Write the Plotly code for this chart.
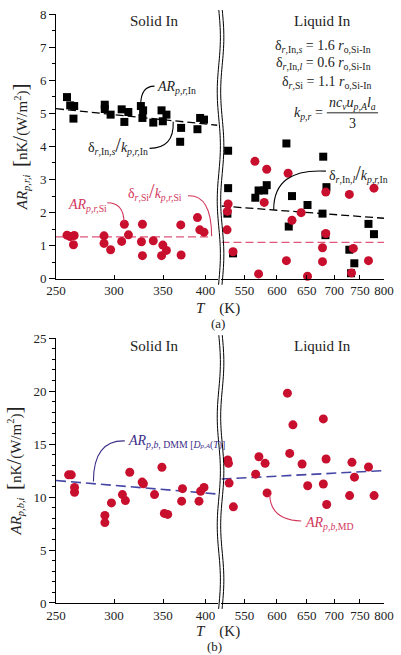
import numpy as np
import plotly.graph_objects as go

# ---------------- data ----------------
# (a) solid In side
T_a_solid_In = [258.8, 261.4, 264.7, 264.1, 291.4, 291.4, 296.8, 307.3, 313.8, 309.9, 326.4,
                328.7, 328.0, 339.4, 348.3, 353.7, 349.7, 370.4, 369.3, 389.9, 393.2, 398.0]
AR_a_solid_In = [5.49, 5.24, 5.22, 4.84, 5.26, 5.13, 4.96, 5.12, 5.04, 4.74, 5.22,
                 5.09, 4.86, 4.72, 5.09, 4.96, 4.76, 4.56, 4.14, 4.52, 4.86, 4.81]
T_a_solid_Si = [258.8, 261.4, 264.7, 264.1, 290.7, 290.7, 296.8, 307.3, 309.9, 313.9, 327.0,
                328.0, 328.0, 339.4, 348.3, 349.7, 353.7, 370.0, 370.4, 389.9, 392.8, 398.0]
AR_a_solid_Si = [1.32, 1.28, 1.31, 1.03, 1.30, 1.07, 0.88, 1.13, 1.65, 1.33, 1.12,
                 1.65, 0.70, 1.15, 0.70, 1.02, 0.86, 1.63, 0.72, 1.85, 1.48, 1.41]
# (a) liquid In side
T_a_liquid_In = [526.3, 526.3, 525.3, 566.2, 571.2, 579.9, 583.8, 624.8, 619.4, 651.4, 679.5,
                 678.2, 685.4, 683.6, 728.9, 738.7, 732.2, 767.3, 778.7, 533.3, 615.5]
AR_a_liquid_In = [3.87, 2.74, 1.97, 2.45, 2.67, 2.67, 2.83, 2.50, 1.58, 2.23, 3.69,
                  1.97, 2.77, 1.32, 0.88, 0.47, 0.17, 1.66, 1.35, 0.77, 4.09]
T_a_liquid_Si = [565.6, 583.8, 618.3, 526.3, 525.3, 524.8, 579.9, 640.4, 624.8, 684.2, 684.2,
                 678.2, 728.9, 778.7, 533.3, 615.5, 678.2, 767.3, 736.7, 571.2, 651.4, 733.2]
AR_a_liquid_Si = [3.55, 3.31, 3.19, 2.26, 2.04, 1.48, 2.31, 2.00, 1.77, 2.62, 1.37,
                  0.94, 2.55, 2.74, 0.82, 0.55, 0.52, 0.55, 0.92, 0.15, 0.08, 0.18]
# (a) fit lines
T_fit_solid = [250, 415]
T_fit_solid_Si = [250, 406]
T_fit_liquid = [517, 800]
AR_fit_solid_In = [5.14, 4.64]
AR_fit_solid_Si = [1.27, 1.27]
AR_fit_liquid_In = [2.20, 1.83]
AR_fit_liquid_Si = [1.10, 1.10]

# (b)
T_b_solid = [260.1, 262.3, 265.0, 265.0, 291.5, 291.5, 297.6, 308.0, 310.9, 315.2, 327.7,
             329.0, 340.7, 348.7, 351.4, 355.1, 372.0, 371.0, 391.8, 393.8, 398.0]
AR_b_solid = [12.10, 12.10, 10.91, 10.45, 8.27, 7.59, 9.45, 10.23, 9.67, 12.34, 11.41,
              11.26, 10.23, 12.81, 8.46, 8.36, 10.79, 9.61, 9.61, 10.55, 10.91]
T_b_liquid = [617.2, 626.4, 679.7, 525.8, 526.8, 571.7, 581.3, 621.0, 642.0, 684.7, 734.0,
              767.4, 566.7, 739.0, 527.7, 651.7, 679.7, 584.4, 729.4, 779.0, 685.8, 533.8]
AR_b_liquid = [19.81, 16.82, 17.38, 13.50, 13.18, 13.81, 13.18, 14.12, 13.12, 13.59, 13.28,
               12.84, 12.16, 11.88, 11.32, 11.07, 11.23, 10.39, 10.14, 10.14, 9.30, 9.08]
AR_fit_b_solid = [11.56, 10.29]
AR_fit_b_liquid = [11.70, 12.50]

tick_left = [250, 300, 350, 400]
tick_right = [550, 600, 650, 700, 750, 800]

# ---------------- styling ----------------
FONT = "Liberation Serif, Times New Roman, serif"
BLACK = "#000000"
RED = "#c8102e"
RED_TXT = "#d2375c"
RED_LINE = "#e0557a"
BLUE = "#4646a6"
NAVY = "#3a2d86"

W, H = 401, 655
ML, MR, MT, MB = 56, 12, 7, 52
PW = W - ML - MR
PH = H - MT - MB


def P(px, py):
    return ((px - ML) / PW, (H - MB - py) / PH)


fig = go.Figure()


def sc(x, y, xa, ya, sym, color, size):
    fig.add_trace(go.Scatter(x=x, y=y, xaxis=xa, yaxis=ya, mode="markers", cliponaxis=False,
                             marker=dict(symbol=sym, color=color, size=size, line=dict(width=0))))


def ln(x, y, xa, ya, color, width=1.3, dash="8px,4px"):
    fig.add_trace(go.Scatter(x=x, y=y, xaxis=xa, yaxis=ya, mode="lines",
                             line=dict(color=color, width=width, dash=dash)))


# panel (a)
ln(T_fit_solid, AR_fit_solid_In, "x", "y", BLACK)
ln(T_fit_solid_Si, AR_fit_solid_Si, "x", "y", RED_LINE)
ln(T_fit_liquid, AR_fit_liquid_In, "x2", "y", BLACK)
ln(T_fit_liquid, AR_fit_liquid_Si, "x2", "y", RED_LINE)
sc(T_a_solid_In, AR_a_solid_In, "x", "y", "square", BLACK, 8)
sc(T_a_solid_Si, AR_a_solid_Si, "x", "y", "circle", RED, 9)
sc(T_a_liquid_In, AR_a_liquid_In, "x2", "y", "square", BLACK, 8)
sc(T_a_liquid_Si, AR_a_liquid_Si, "x2", "y", "circle", RED, 9)
# panel (b)
ln(T_fit_solid, AR_fit_b_solid, "x3", "y2", BLUE, 1.6, "10px,5px")
ln(T_fit_liquid, AR_fit_b_liquid, "x4", "y2", BLUE, 1.6, "10px,5px")
sc(T_b_solid, AR_b_solid, "x3", "y2", "circle", RED, 9)
sc(T_b_liquid, AR_b_liquid, "x4", "y2", "circle", RED, 9)

xl_dom = [0, (220 - ML) / PW]
xr_dom = [(224 - ML) / PW, 1]
ya_dom = [P(0, 275)[1], 1]
yb_dom = [0, P(0, 335)[1]]

xcommon = dict(type="log", showline=True, linecolor="black", linewidth=1, ticks="inside",
               ticklen=4, tickcolor="black", showgrid=False, zeroline=False,
               tickfont=dict(family=FONT, size=13, color="#222"))
xleft = dict(xcommon, domain=xl_dom, range=[np.log10(250), np.log10(415.3)], tickvals=tick_left)
xright = dict(xcommon, domain=xr_dom, range=[np.log10(517), np.log10(800)], tickvals=tick_right)

big = "<span style='font-size:21px'>"
ycommon = dict(showline=True, linecolor="black", linewidth=1, ticks="outside", ticklen=6,
               tickcolor="black", showgrid=False, zeroline=False,
               tickfont=dict(family=FONT, size=13, color="#222"))
ya = dict(ycommon, domain=ya_dom, anchor="x", range=[0, 8], dtick=1,
          minor=dict(dtick=0.5, ticks="outside", ticklen=3, tickcolor="black"),
          title=dict(text="<i>AR</i><sub><i>p,r,i</i></sub>  " + big + "[</span>nK" + big +
                     "/</span>(W/m<sup>2</sup>)" + big + "]</span>",
                     font=dict(family=FONT, size=15, color="#222"), standoff=8))
yb = dict(ycommon, domain=yb_dom, anchor="x3", range=[0, 25], dtick=5,
          minor=dict(dtick=1, ticks="outside", ticklen=3, tickcolor="black"),
          title=dict(text="<i>AR</i><sub><i>p,b,i</i></sub>  " + big + "[</span>nK" + big +
                     "/</span>(W/m<sup>2</sup>)" + big + "]</span>",
                     font=dict(family=FONT, size=15, color="#222"), standoff=8))

fig.update_layout(
    width=W, height=H, margin=dict(l=ML, r=MR, t=MT, b=MB),
    paper_bgcolor="white", plot_bgcolor="white", showlegend=False,
    font=dict(family=FONT, color="#222"),
    xaxis=dict(xleft, anchor="y"), xaxis2=dict(xright, anchor="y"),
    xaxis3=dict(xleft, anchor="y2"), xaxis4=dict(xright, anchor="y2"),
    yaxis=ya, yaxis2=yb,
)

ann = []


def txt(px, py, text, size=14, color="#222", xanchor="center"):
    x, y = P(px, py)
    ann.append(dict(x=x, y=y, xref="paper", yref="paper", text=text, showarrow=False,
                    xanchor=xanchor, yanchor="middle",
                    font=dict(family=FONT, size=size, color=color)))


shapes = []


def curve(p0, c, p1, color, width=1.1):
    a, b, d = P(*p0), P(*c), P(*p1)
    shapes.append(dict(type="path", xref="paper", yref="paper",
                       path=f"M {a[0]},{a[1]} Q {b[0]},{b[1]} {d[0]},{d[1]}",
                       line=dict(color=color, width=width)))


def wave(xc, top, bot, amp=1.6, period=110):
    pys = np.linspace(top, bot, 80)
    pts = [P(xc + amp * np.sin(2 * np.pi * (py - top) / period), py) for py in pys]
    path = "M " + " L ".join(f"{x:.5f},{y:.5f}" for x, y in pts)
    shapes.append(dict(type="path", xref="paper", yref="paper", path=path,
                       line=dict(color="black", width=1)))


for xc in (221.3, 224.8):
    wave(xc, 3, 281)
    wave(xc, 332, 609)

slash = "<span style='font-size:20px'>/</span>"

# panel (a) texts
txt(155, 14, "Solid In", 15)
txt(327, 14, "Liquid In", 15)
txt(378, 40, "δ<sub><i>r</i>,In,<i>s</i></sub> = 1.6 <i>r</i><sub>o,Si-In</sub>", 14, xanchor="right")
txt(378, 57, "δ<sub><i>r</i>,In,<i>l</i></sub> = 0.6 <i>r</i><sub>o,Si-In</sub>", 14, xanchor="right")
txt(378, 76, "δ<sub><i>r</i>,Si</sub> = 1.1 <i>r</i><sub>o,Si-In</sub>", 14, xanchor="right")
txt(329, 108, "<i>k</i><sub><i>p,r</i></sub> =", 14, xanchor="right")
txt(357, 98, "<i>nc</i><sub><i>v</i></sub><i>u</i><sub><i>p,A</i></sub><i>l</i><sub><i>a</i></sub>", 14)
txt(357, 118, "3", 14)
a0, a1 = P(331, 107), P(383, 107)
shapes.append(dict(type="line", xref="paper", yref="paper", x0=a0[0], y0=a0[1], x1=a1[0], y1=a1[1],
                   line=dict(color="#222", width=1)))

txt(157, 81, "<i>AR</i><sub><i>p,r,</i>In</sub>", 14, xanchor="left")
curve((156, 80), (142, 80), (142, 99), BLACK)
txt(151, 140, "δ<sub><i>r</i>,In,<i>s</i></sub>" + slash + "<i>k</i><sub><i>p,r,</i>In</sub>", 14,
    xanchor="right")
curve((151, 143), (176, 143), (175, 116), BLACK)
txt(66, 201, "<i>AR</i><sub><i>p,r,</i>Si</sub>", 14, RED_TXT, xanchor="left")
curve((108, 198), (125, 198), (125, 218), RED_TXT)
txt(127, 187, "δ<sub><i>r</i>,Si</sub>" + slash + "<i>k</i><sub><i>p,r,</i>Si</sub>", 14, RED_TXT,
    xanchor="left")
curve((190, 191), (214, 190), (214, 232), RED_TXT)
txt(331, 168, "δ<sub><i>r</i>,In,<i>l</i></sub>" + slash + "<i>k</i><sub><i>p,r,</i>In</sub>", 14,
    xanchor="left")
curve((330, 166), (277, 163), (277, 205), BLACK)

txt(220, 305, "<i>T</i>    (K)", 15)
txt(220, 320, "(a)", 13)

# panel (b) texts
txt(155, 343, "Solid In", 15)
txt(327, 343, "Liquid In", 15)
txt(127, 440, "<i>AR</i><sub><i>p,b</i>, DMM [<i>D</i><span style='font-size:7px'><i>p,A</i></span>(<i>T</i>)]</sub>",
    14, NAVY, xanchor="left")
curve((126, 439), (94, 438), (94, 480), NAVY)
txt(307, 523, "<i>AR</i><sub><i>p,b,</i>MD</sub>", 14, RED_TXT, xanchor="left")
curve((305, 520), (274, 519), (273, 494), RED_TXT)

txt(220, 632, "<i>T</i>    (K)", 15)
txt(217, 647, "(b)", 13)

fig.update_layout(annotations=ann, shapes=shapes)
fig.write_html("out.html")
